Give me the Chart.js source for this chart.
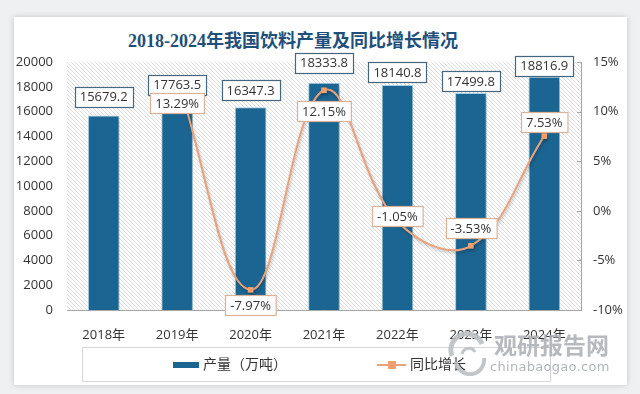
<!DOCTYPE html>
<html>
<head>
<meta charset="utf-8">
<script src="https://cdn.jsdelivr.net/npm/chart.js"></script>
<style>
  html, body { margin: 0; padding: 0; }
  body { width: 640px; height: 394px; background: #eef0f2; position: relative; overflow: hidden;
         font-family: "Open Sans", "Noto Sans CJK SC", sans-serif; }
  #card { position: absolute; left: 14px; top: 17px; width: 613px; height: 368px; background: #fff;
          box-shadow: 0 0 6px rgba(0,0,0,0.18); }
  #title { position: absolute; left: 0; width: 586px; top: 26px; text-align: center;
           font: bold 18px "Liberation Serif", "Noto Sans CJK SC", serif; color: #1f4f7a; }
  canvas { position: absolute; left: 0; top: 0; }
  #legend { position: absolute; left: 82px; top: 347px; width: 467px; height: 33px;
            border: 1px solid #d6d6d6; font-size: 14px; color: #333; }
  .lg { position: absolute; top: 6px; line-height: 20px; }
  #wm { position: absolute; left: 444px; top: 330px; width: 170px; height: 46px; opacity: 0.9; }
  #wm .cn { position: absolute; left: 50px; top: 0; font: bold 23px "Noto Sans CJK SC", sans-serif;
            color: #aeb2b6; line-height: 28px; }
  #wm .en { position: absolute; left: 46px; top: 29px; font: 13px "DejaVu Sans", sans-serif;
            color: #a9adb1; letter-spacing: 0.3px; line-height: 16px; }
</style>
</head>
<body>
<div id="card"></div>
<div id="title">2018-2024年我国饮料产量及同比增长情况</div>
<canvas id="myChart" width="640" height="394"></canvas>
<div id="legend">
  <div style="position:absolute;left:90px;top:14px;width:26px;height:6px;background:#1b6592;"></div>
  <div class="lg" style="left:120px;">产量（万吨）</div>
  <div style="position:absolute;left:294px;top:16px;width:29px;height:2px;background:#e9a27c;"></div>
  <div style="position:absolute;left:305px;top:13px;width:8px;height:8px;background:#f0a070;"></div>
  <div class="lg" style="left:327px;">同比增长</div>
</div>
<div id="wm">
  <svg width="50" height="46" style="position:absolute;left:0;top:0">
    <path d="M8 26 A16 16 0 0 1 38 14" stroke="#bcc0c3" stroke-width="5" fill="none"/>
    <path d="M12 32 A14 14 0 0 0 40 28" stroke="#bcc0c3" stroke-width="4" fill="none"/>
    <path d="M18 24 A7 7 0 0 1 31 22" stroke="#bcc0c3" stroke-width="3" fill="none"/>
  </svg>
  <div class="cn">观研报告网</div>
  <div class="en">chinabaogao.com</div>
</div>
<script>
const years = ["2018年", "2019年", "2020年", "2021年", "2022年", "2023年", "2024年"];
const output = [15679.2, 17763.5, 16347.3, 18333.8, 18140.8, 17499.8, 18816.9];
const growth = [null, 13.29, -7.97, 12.15, -1.05, -3.53, 7.53];
const leftTicks = [0, 2000, 4000, 6000, 8000, 10000, 12000, 14000, 16000, 18000, 20000];
const rightTicks = [-10, -5, 0, 5, 10, 15];

// label placement tweaks (pixels from the mark)
const barLabelShift = [-19, -5, -17, -20, -13, -12, -11];
const lineLabelShift = [0, 24, 15, 21, -5, -18, -14];

const hatch = {
  id: 'hatch',
  beforeDatasetsDraw(chart) {
    const a = chart.chartArea, ctx = chart.ctx;
    ctx.save();
    ctx.beginPath();
    ctx.rect(a.left, a.top, a.right - a.left, a.bottom - a.top);
    ctx.clip();
    ctx.strokeStyle = '#dcdddf';
    ctx.lineWidth = 1;
    const h = a.bottom - a.top;
    for (let x = a.left - h; x < a.right; x += 4) {
      ctx.beginPath();
      ctx.moveTo(x, a.top);
      ctx.lineTo(x + h, a.bottom);
      ctx.stroke();
    }
    ctx.restore();
  },
  afterDraw(chart) {
    const s = chart.scales.y1, ctx = chart.ctx;
    ctx.save();
    ctx.strokeStyle = '#a6a6a6';
    ctx.lineWidth = 1;
    rightTicks.forEach(v => {
      const y = Math.round(s.getPixelForValue(v)) + 0.5;
      ctx.beginPath();
      ctx.moveTo(s.left - 4, y);
      ctx.lineTo(s.left, y);
      ctx.stroke();
    });
    ctx.restore();
  }
};

const shadow = {
  id: 'shadow',
  beforeDatasetDraw(chart) {
    const ctx = chart.ctx;
    ctx.save();
    ctx.shadowColor = 'rgba(0,0,0,0.25)';
    ctx.shadowBlur = 3;
    ctx.shadowOffsetX = 1;
    ctx.shadowOffsetY = 2;
  },
  afterDatasetDraw(chart) {
    chart.ctx.restore();
  }
};

function box(ctx, text, x, y, border) {
  ctx.font = '13px "Open Sans", sans-serif';
  const w = ctx.measureText(text).width + 10, h = 20;
  const l = Math.round(x - w / 2) + 0.5, t = Math.round(y - h / 2) + 0.5;
  ctx.fillStyle = '#fff';
  ctx.fillRect(l, t, w, h);
  ctx.strokeStyle = border;
  ctx.lineWidth = 1.2;
  ctx.strokeRect(l, t, w, h);
  ctx.fillStyle = '#333';
  ctx.textAlign = 'center';
  ctx.textBaseline = 'middle';
  ctx.fillText(text, x, y + 1);
}

const labels = {
  id: 'labels',
  afterDatasetsDraw(chart) {
    const ctx = chart.ctx;
    ctx.save();
    chart.getDatasetMeta(1).data.forEach((el, i) => {
      box(ctx, output[i].toFixed(1), el.x, el.y + barLabelShift[i], '#46667d');
    });
    chart.getDatasetMeta(0).data.forEach((el, i) => {
      if (growth[i] === null) return;
      box(ctx, growth[i].toFixed(2) + '%', el.x, el.y + lineLabelShift[i], '#dcb196');
    });
    ctx.restore();
  }
};

const ctx = document.getElementById('myChart').getContext('2d');
new Chart(ctx, {
  data: {
    labels: years,
    datasets: [{
      type: 'line',
      label: '同比增长',
      data: growth,
      yAxisID: 'y1',
      borderColor: '#e9a27c',
      borderWidth: 2,
      tension: 0.4,
      pointStyle: 'rect',
      pointRadius: 4,
      pointBackgroundColor: '#f0a070',
      pointBorderWidth: 0,
      order: 0
    }, {
      type: 'bar',
      label: '产量（万吨）',
      data: output,
      yAxisID: 'y',
      backgroundColor: '#1b6592',
      borderColor: '#a9d2e8',
      borderWidth: 1,
      categoryPercentage: 1,
      barPercentage: 0.43,
      order: 1
    }]
  },
  options: {
    responsive: false,
    animation: false,
    layout: { padding: { top: 62, left: 0, right: 0, bottom: 0 } },
    plugins: { legend: { display: false }, tooltip: { enabled: false } },
    scales: {
      x: {
        grid: { display: false },
        border: { display: true, color: '#a6a6a6' },
        ticks: { color: '#333', padding: 9, font: { size: 13, family: '"Open Sans", "Noto Sans CJK SC"' } },
        afterFit(s) { s.height = 84; }
      },
      y: {
        position: 'left',
        min: 0, max: 20000,
        grid: { display: false, drawTicks: false },
        border: { display: false },
        afterBuildTicks(s) { s.ticks = leftTicks.map(v => ({ value: v })); },
        ticks: { color: '#333', padding: 14, font: { size: 13, family: '"Open Sans"' },
                 callback: v => String(v) },
        afterFit(s) { s.width = 67; }
      },
      y1: {
        position: 'right',
        min: -10, max: 15,
        grid: { display: false, drawTicks: false },
        border: { display: true, color: '#a6a6a6' },
        afterBuildTicks(s) { s.ticks = rightTicks.map(v => ({ value: v })); },
        ticks: { color: '#333', padding: 12, font: { size: 13, family: '"Open Sans"' },
                 callback: v => v + '%' },
        afterFit(s) { s.width = 59; }
      }
    }
  },
  plugins: [hatch, shadow, labels]
});
</script>
</body>
</html>
